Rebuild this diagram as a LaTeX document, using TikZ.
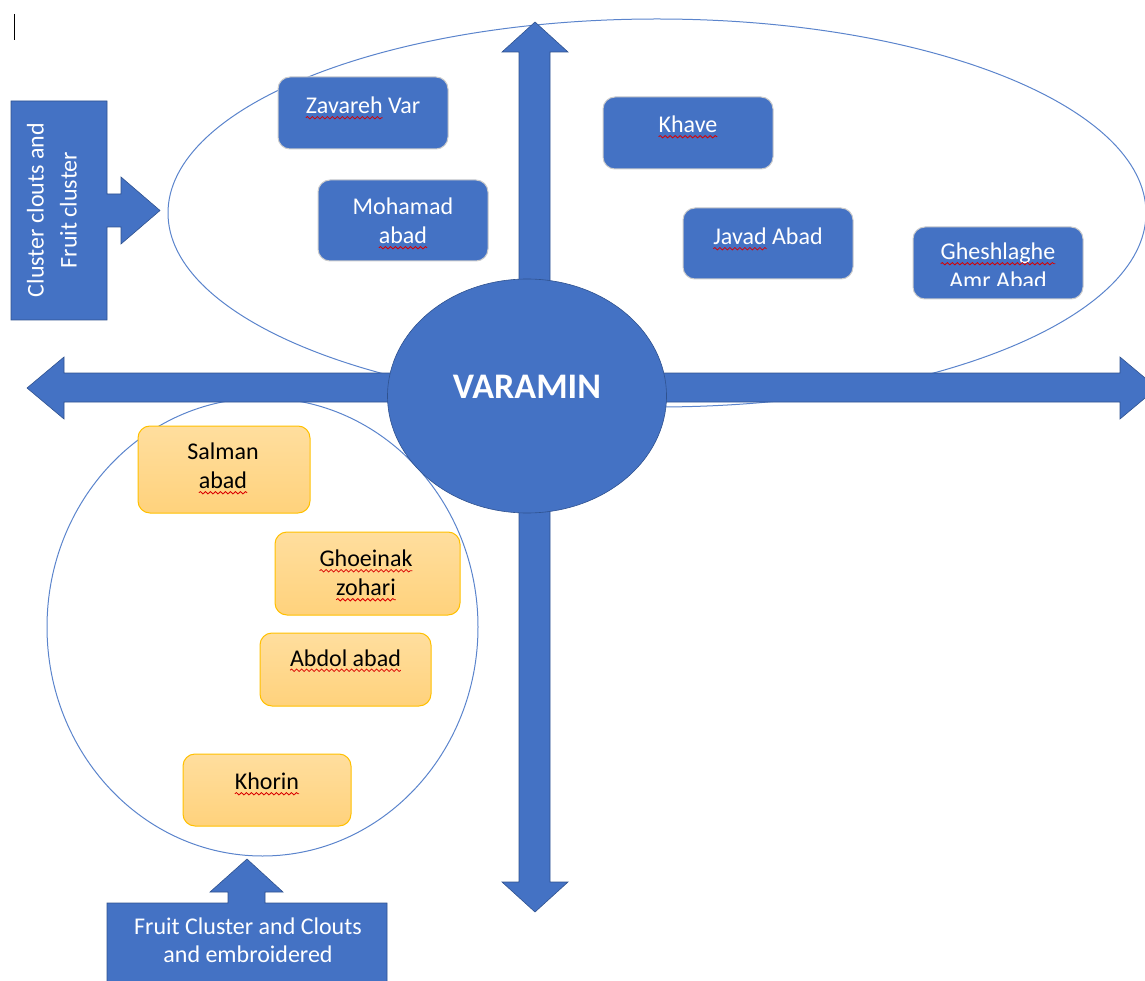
\documentclass[tikz,border=0pt]{standalone}
\usepackage{fontspec}
\setmainfont{Carlito}
\usetikzlibrary{shapes.geometric,decorations.pathmorphing}
\definecolor{acc}{HTML}{4472C4}
\definecolor{accd}{HTML}{2F528F}
\definecolor{ringc}{HTML}{5B84CC}
\definecolor{gold}{HTML}{FFC000}
\definecolor{goldtop}{HTML}{FFDE9E}
\definecolor{goldbot}{HTML}{FFD27C}
\newcommand\sqw[1]{\tikz[baseline=(w.base)]{\node[inner sep=0pt,outer sep=0pt,anchor=base,draw=none,fill=none,minimum width=0pt,minimum height=0pt] (w) at (0,0) {#1};\draw[overlay,red!85!black,line width=0.8pt,decorate,decoration={snake,amplitude=1.2pt,segment length=5pt}] ([yshift=-4pt]w.base west) -- ([yshift=-4pt]w.base east);}}
\tikzset{
  bluebox/.style={draw=black!20, line width=1pt, fill=acc, rounded corners=12pt, inner sep=0pt},
  goldbox/.style={draw=gold, line width=1pt, top color=goldtop, bottom color=goldbot, rounded corners=12pt, inner sep=0pt},
  wtext/.style={text=white, font=\fontsize{24}{29}\selectfont, align=center, inner sep=0pt},
  ktext/.style={text=black, font=\fontsize{24}{29}\selectfont, align=center, inner sep=0pt},
  bigarrow/.style={fill=acc, draw=accd, line width=0.6pt},
  ring/.style={ellipse, draw=ringc, line width=1pt, inner sep=0pt}
}
\begin{document}
\begin{tikzpicture}[x=1pt,y=-1pt]
\useasboundingbox (0,0) rectangle (1145,981);
% cursor
\draw[line width=1pt] (14,14) -- (14,40);
% rings
\node[ring, minimum width=978pt, minimum height=388pt] (topring) at (657,213) {};
\node[ring, minimum width=431pt, minimum height=458pt] (lowring) at (262.5,627) {};
% cross arrows
\draw[bigarrow] (27,388) -- (64,357) -- (64,373) -- (1120,373) -- (1120,357) -- (1157,388) -- (1120,419) -- (1120,402) -- (64,402) -- (64,419) -- cycle;
\draw[bigarrow] (535,22) -- (568,52) -- (550,52) -- (550,882) -- (568,882) -- (535,912) -- (502,882) -- (519,882) -- (519,52) -- (502,52) -- cycle;
% centre
\node[ellipse, fill=acc, draw=accd, line width=0.6pt, minimum width=279pt, minimum height=234pt, inner sep=0pt] (var) at (527,396) {};
\node[text=white, font=\fontsize{36}{40}\selectfont\bfseries, inner sep=0pt] (vart) at (527,387) {VARAMIN};
% blue boxes
\node[bluebox, minimum width=170pt, minimum height=72pt] (zav) at (363,113) {};
\node[wtext] (zavt) at (363,105.5) {\sqw{Zavareh} Var};
\node[bluebox, minimum width=170pt, minimum height=72pt] (kha) at (688,133) {};
\node[wtext] (khat) at (688,124.5) {\sqw{Khave}};
\node[bluebox, minimum width=170pt, minimum height=81pt] (moh) at (403,220.5) {};
\node[wtext] (moht) at (403,221) {Mohamad\\\sqw{abad}};
\node[bluebox, minimum width=170pt, minimum height=71pt] (jav) at (768,243.5) {};
\node[wtext] (javt) at (768,236.5) {\sqw{Javad} Abad};
\node[bluebox, minimum width=170pt, minimum height=72pt] (ghe) at (998,263) {};
\begin{scope}
\clip (913,227) rectangle (1083,286);
\node[wtext] (ghet) at (998,266) {\sqw{Gheshlaghe}\\Amr Abad};
\end{scope}
% gold boxes
\node[goldbox, minimum width=172pt, minimum height=87pt] (sal) at (224,469.5) {};
\node[ktext] (salt) at (223,466) {Salman\\\sqw{abad}};
\node[goldbox, minimum width=185pt, minimum height=83pt] (gho) at (367.5,573.5) {};
\node[ktext] (ghot) at (366,573) {\sqw{Ghoeinak}\\\sqw{zohari}};
\node[goldbox, minimum width=171pt, minimum height=73pt] (abd) at (345.5,669.5) {};
\node[ktext] (abdt) at (345.5,658) {\sqw{Abdol abad}};
\node[goldbox, minimum width=168pt, minimum height=72pt] (kho) at (267,790) {};
\node[ktext] (khot) at (267,781.5) {\sqw{Khorin}};
% left callout
\draw[bigarrow] (11,101) -- (107,101) -- (107,194) -- (121,194) -- (121,177) -- (160,210.5) -- (121,244) -- (121,227) -- (107,227) -- (107,320) -- (11,320) -- cycle;
\node[text=white, font=\fontsize{24}{33}\selectfont, align=center, inner sep=0pt, rotate=90] (clt) at (52,210) {Cluster clouts and\\Fruit cluster};
% bottom callout
\draw[bigarrow] (107,995) -- (107,903) -- (228,903) -- (228,892) -- (210,892) -- (247,859) -- (283,892) -- (265,892) -- (265,903) -- (387,903) -- (387,995) -- cycle;
\node[text=white, font=\fontsize{24}{28.5}\selectfont, align=center, inner sep=0pt] (bct) at (248,940) {Fruit Cluster and Clouts\\and embroidered};
\end{tikzpicture}
\end{document}
